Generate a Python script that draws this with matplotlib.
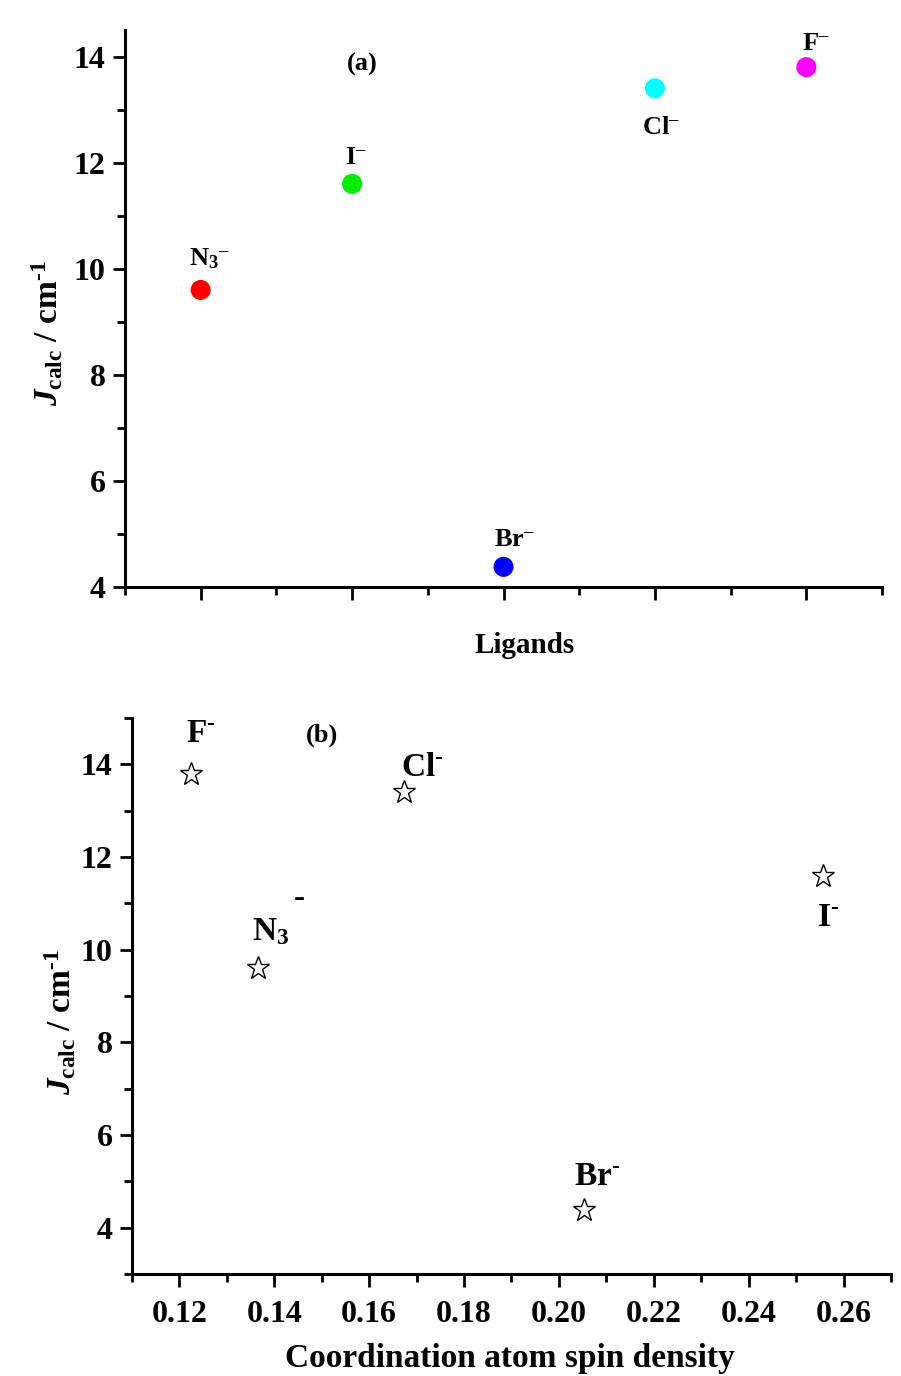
import matplotlib
matplotlib.use('Agg')
import matplotlib.pyplot as plt
from matplotlib.ticker import FixedLocator, FormatStrFormatter, NullFormatter

plt.rcParams['font.family'] = ['Liberation Serif', 'DejaVu Serif']
plt.rcParams['font.weight'] = 'bold'
plt.rcParams['mathtext.fontset'] = 'custom'
plt.rcParams['mathtext.rm'] = 'Liberation Serif:bold'
plt.rcParams['mathtext.bf'] = 'Liberation Serif:bold'
plt.rcParams['mathtext.it'] = 'Liberation Serif:italic:bold'

# panel (a): J values per ligand
ligands = [r'N$_3{}^{\text{–}}$', r'I$^{\text{–}}$', r'Br$^{\text{–}}$',
           r'Cl$^{\text{–}}$', r'F$^{\text{–}}$']
lig_pos = [1, 2, 3, 4, 5]
j_calc = [9.6, 11.6, 4.38, 13.4, 13.8]
lig_colors = ['#ff0000', '#00ee00', '#0000ff', '#00ffff', '#ff00ff']

# panel (b): J vs spin density of coordinating atom
spin_names = [r'F$^{\text{-}}$', 'N$_3$', r'Cl$^{\text{-}}$',
              r'Br$^{\text{-}}$', r'I$^{\text{-}}$']
spin_density = [0.1225, 0.1365, 0.1674, 0.2052, 0.2556]
j_spin = [13.8, 9.6, 13.4, 4.38, 11.6]

fig = plt.figure(figsize=(9.01, 13.76), dpi=100)


def style_axes(ax):
    for s in ['top', 'right']:
        ax.spines[s].set_visible(False)
    for s in ['left', 'bottom']:
        ax.spines[s].set_linewidth(2.2)
    ax.tick_params(which='major', direction='out', length=9, width=2.0,
                   labelsize=23, pad=5)
    ax.tick_params(which='minor', direction='out', length=5.5, width=2.0)


# ---- (a)
ax1 = fig.add_axes([0.1387, 0.5734, 0.8403, 0.4048])
style_axes(ax1)
ax1.scatter(lig_pos, j_calc, s=180, c=lig_colors, zorder=3)
ax1.set_xlim(0.5, 5.5)
ax1.set_ylim(4, 14.5)
ax1.xaxis.set_major_locator(FixedLocator(lig_pos))
ax1.xaxis.set_minor_locator(FixedLocator([0.5, 1.5, 2.5, 3.5, 4.5, 5.5]))
ax1.xaxis.set_major_formatter(NullFormatter())
ax1.yaxis.set_major_locator(FixedLocator([4, 6, 8, 10, 12, 14]))
ax1.yaxis.set_minor_locator(FixedLocator([5, 7, 9, 11, 13]))
ax1.set_xlabel('Ligands', fontsize=21, fontweight='bold')
ax1.xaxis.set_label_coords(0.528, -0.081)

# label offsets in points (dx, dy to baseline)
offs_a = [(6, 18), (3, 14), (8, 15), (4, -33), (7, 12)]
for name, x, y, (dx, dy) in zip(ligands, lig_pos, j_calc, offs_a):
    ax1.annotate(name, (x, y), xytext=(dx, dy), textcoords='offset points',
                 ha='center', va='baseline', fontsize=19, fontweight='bold')
ax1.text(0.314, 0.928, '(a)', transform=ax1.transAxes, ha='center',
         va='baseline', fontsize=19, fontweight='bold')
fig.text(0.053, 0.758, r'$J_{\rm calc}$ / cm$^{\text{-}1}$', rotation=90,
         ha='center', va='center', fontsize=24, fontweight='bold')

# ---- (b)
ax2 = fig.add_axes([0.1465, 0.0741, 0.8424, 0.4041])
style_axes(ax2)
ax2.plot(spin_density, j_spin, linestyle='none', marker='*', ms=17,
         mfc='white', mec='black', mew=1.0, zorder=3)
ax2.set_xlim(0.11, 0.27)
ax2.set_ylim(3, 15)
ax2.xaxis.set_major_locator(FixedLocator([0.12, 0.14, 0.16, 0.18, 0.20, 0.22, 0.24, 0.26]))
ax2.xaxis.set_minor_locator(FixedLocator([0.11, 0.13, 0.15, 0.17, 0.19, 0.21, 0.23, 0.25, 0.27]))
ax2.xaxis.set_major_formatter(FormatStrFormatter('%.2f'))
ax2.yaxis.set_major_locator(FixedLocator([4, 6, 8, 10, 12, 14]))
ax2.yaxis.set_minor_locator(FixedLocator([3, 5, 7, 9, 11, 13, 15]))
ax2.tick_params(axis='x', which='major', pad=10)
ax2.set_xlabel('Coordination atom spin density', fontsize=24, fontweight='bold')
ax2.xaxis.set_label_coords(0.498, -0.124)

offs_b = [(7, 23), (-4, 20), (13, 11.5), (10, 18), (4, -36)]
for name, x, y, (dx, dy) in zip(spin_names, spin_density, j_spin, offs_b):
    ha = 'left' if name == 'N$_3$' else 'center'
    ax2.annotate(name, (x, y), xytext=(dx, dy), textcoords='offset points',
                 ha=ha, va='baseline', fontsize=24, fontweight='bold')
# the charge of N3 sits well above the symbol
ax2.annotate('-', (spin_density[1], j_spin[1]), xytext=(26, 44),
             textcoords='offset points', ha='left', va='baseline',
             fontsize=24, fontweight='bold')
ax2.text(0.25, 0.957, '(b)', transform=ax2.transAxes, ha='center',
         va='baseline', fontsize=19, fontweight='bold')
fig.text(0.067, 0.257, r'$J_{\rm calc}$ / cm$^{\text{-}1}$', rotation=90,
         ha='center', va='center', fontsize=24, fontweight='bold')

fig.savefig('out.png', dpi=100, facecolor='white')
